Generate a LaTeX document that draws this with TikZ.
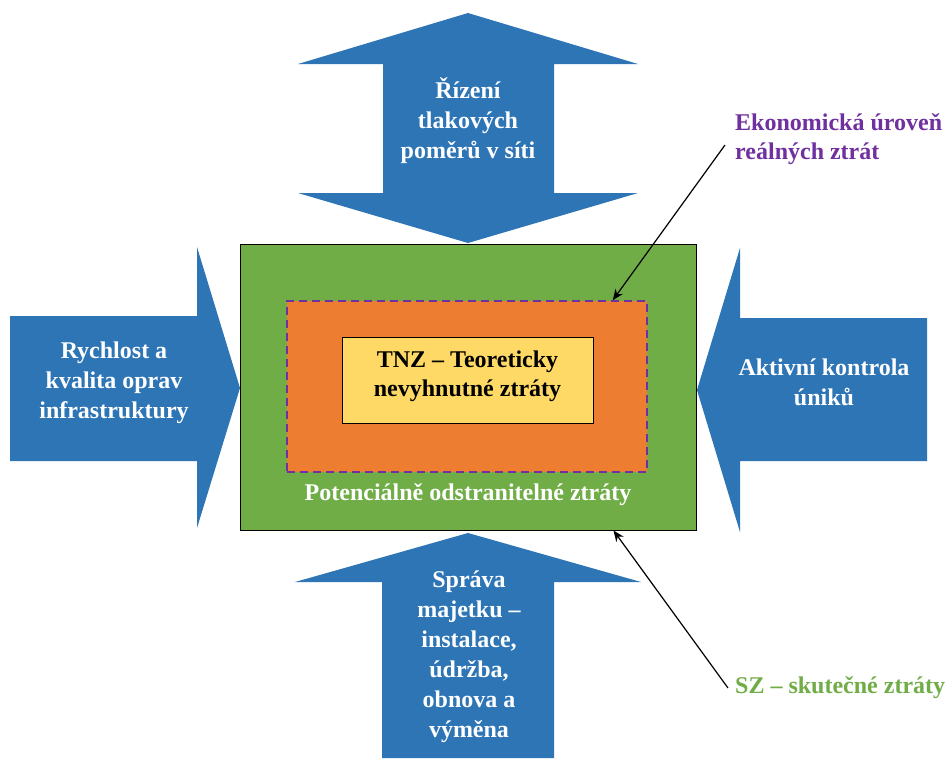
\documentclass[tikz,border=0pt]{standalone}
\usepackage{fontspec}
\setmainfont{Liberation Serif}
\usetikzlibrary{arrows.meta}
\definecolor{arrblue}{HTML}{2E75B6}
\definecolor{boxgreen}{HTML}{70AD47}
\definecolor{boxorange}{HTML}{ED7D31}
\definecolor{boxyellow}{HTML}{FFD966}
\definecolor{labpurple}{HTML}{7030A0}
\tikzset{
  bigarrow/.style={fill=arrblue, draw=none},
  arrtext/.style={text=white, font=\fontsize{24}{30}\selectfont\bfseries, align=center, inner sep=0pt},
  sidelabel/.style={font=\fontsize{24}{28.5}\selectfont\bfseries, align=left, inner sep=0pt, anchor=west},
  conn/.style={draw=black, line width=1.2pt, -{Stealth[length=11pt,width=9pt]}},
}
\begin{document}
\begin{tikzpicture}[x=1pt,y=-1pt]
\useasboundingbox (0,0) rectangle (948,758);
\fill[white] (0,0) rectangle (948,758);
% central boxes
\node[draw=black, line width=1pt, fill=boxgreen, minimum width=456pt, minimum height=286pt, inner sep=0pt] (green) at (468,387) {};
\node[draw=labpurple, line width=1.5pt, dash pattern=on 8pt off 5pt, fill=boxorange, minimum width=360pt, minimum height=171pt, inner sep=0pt] (orange) at (467,386.5) {};
\node[draw=black, line width=1pt, fill=boxyellow, minimum width=251pt, minimum height=86pt, inner sep=0pt] (yellow) at (467.5,380) {};
\node[font=\fontsize{24}{29}\selectfont\bfseries, align=center, inner sep=0pt] (tnz) at (467.5,376) {TNZ -- Teoreticky\\nevyhnutné ztráty};
\node[text=white, font=\fontsize{24}{29}\selectfont\bfseries, inner sep=0pt] (pot) at (468,495) {Potenciálně odstranitelné ztráty};
% top double arrow
\path[bigarrow] (468,13) -- (638,64) -- (554,64) -- (554,193) -- (638,193) -- (468,243) -- (298,193) -- (383,193) -- (383,64) -- (298,64) -- cycle;
\node[arrtext] (top) at (468,121) {Řízení\\tlakových\\poměrů v síti};
% left arrow
\path[bigarrow] (10,316) -- (197,316) -- (197,247) -- (240,388) -- (197,528) -- (197,461) -- (10,461) -- cycle;
\node[arrtext] (left) at (114,383) {Rychlost a\\kvalita oprav\\infrastruktury};
% right arrow
\path[bigarrow] (927,318) -- (740,318) -- (740,248) -- (697,390) -- (740,532) -- (740,461) -- (927,461) -- cycle;
\node[arrtext] (right) at (824,382) {Aktivní kontrola\\úniků};
% bottom arrow
\path[bigarrow] (468,533) -- (641,582) -- (554,582) -- (554,758) -- (382,758) -- (382,582) -- (295,582) -- cycle;
\node[arrtext] (bottom) at (469,657) {Správa\\majetku --\\instalace,\\údržba,\\obnova a\\výměna};
% side labels
\node[sidelabel, text=labpurple] (eko) at (735,139) {Ekonomická úroveň\\reálných ztrát};
\node[sidelabel, text=boxgreen] (sz) at (735,688) {SZ -- skutečné ztráty};
% connectors
\draw[conn] ([xshift=-10pt,yshift=-6pt]eko.west) -- ([xshift=-35pt]orange.north east);
\draw[conn] ([xshift=-7pt]sz.west) -- ([xshift=-83pt]green.south east);
\end{tikzpicture}
\end{document}
